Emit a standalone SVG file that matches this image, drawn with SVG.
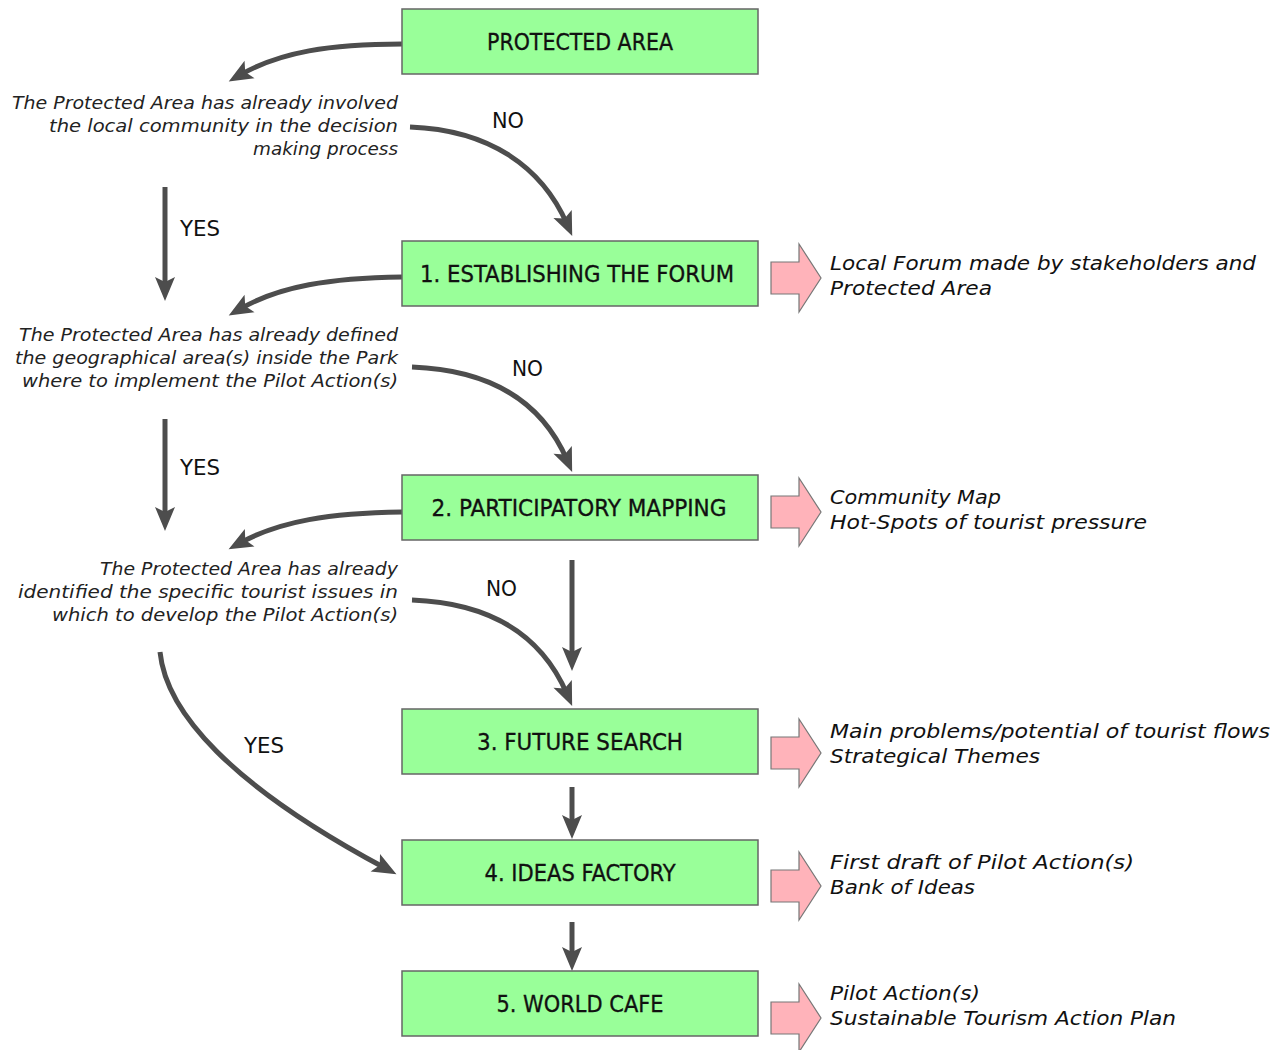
<svg xmlns="http://www.w3.org/2000/svg" xmlns:xlink="http://www.w3.org/1999/xlink" width="1274" height="1050" viewBox="0 0 1274 1050">
<style>
.box{fill:#99ff99;stroke:#666;stroke-width:1.5}
.bt{font-family:"DejaVu Sans Condensed","DejaVu Sans",sans-serif;font-size:23px;fill:#111;text-anchor:middle;stroke:#111;stroke-width:0.3}
.q{font-family:"DejaVu Sans Condensed","DejaVu Sans",sans-serif;font-style:italic;font-size:18px;fill:#222;text-anchor:end}
.out{font-family:"DejaVu Sans","Liberation Sans",sans-serif;font-style:italic;font-size:19px;fill:#111}
.lbl{font-family:"DejaVu Sans Condensed","DejaVu Sans",sans-serif;font-size:22px;fill:#111}
.con{fill:none;stroke:#4d4d4d;stroke-width:5}
.pink{fill:#ffb3ba;stroke:#777;stroke-width:1.2}
</style>
<defs>
<marker id="ah" markerUnits="userSpaceOnUse" viewBox="-12 -11 26 22" markerWidth="26" markerHeight="22" refX="0" refY="0" orient="auto">
<path d="M13,0 L-11,-10 L-6,0 L-11,10 Z" fill="#4d4d4d"/>
</marker>
<path id="parrow" d="M0,-16 H28 V-34 L50,0 L28,34 V16 H0 Z"/>
</defs>

<g id="connectors">
<path class="con" marker-end="url(#ah)" d="M402,44 C330,44 280,52 240,75"/>
<path class="con" marker-end="url(#ah)" d="M410,127 C490,130 542,167 567,224"/>
<path class="con" marker-end="url(#ah)" d="M165,187 V288"/>
<path class="con" marker-end="url(#ah)" d="M402,277 C330,278 280,286 240,309"/>
<path class="con" marker-end="url(#ah)" d="M412,367 C492,370 542,402 567,460"/>
<path class="con" marker-end="url(#ah)" d="M165,419 V518"/>
<path class="con" marker-end="url(#ah)" d="M402,512 C330,513 280,521 240,543"/>
<path class="con" marker-end="url(#ah)" d="M412,600 C492,603 542,636 567,694"/>
<path class="con" marker-end="url(#ah)" d="M572,560 V658"/>
<path class="con" marker-end="url(#ah)" d="M160,652 C166,712 230,785 385,868"/>
<path class="con" marker-end="url(#ah)" d="M572,787 V826"/>
<path class="con" marker-end="url(#ah)" d="M572,922 V958"/>
<text class="lbl" x="492" y="128" textLength="32" lengthAdjust="spacingAndGlyphs">NO</text>
<text class="lbl" x="512" y="376" textLength="31" lengthAdjust="spacingAndGlyphs">NO</text>
<text class="lbl" x="486" y="596" textLength="31" lengthAdjust="spacingAndGlyphs">NO</text>
<text class="lbl" x="180" y="236" textLength="40" lengthAdjust="spacingAndGlyphs">YES</text>
<text class="lbl" x="180" y="475" textLength="40" lengthAdjust="spacingAndGlyphs">YES</text>
<text class="lbl" x="244" y="753" textLength="40" lengthAdjust="spacingAndGlyphs">YES</text>
</g>

<g id="n0">
<rect class="box" x="402" y="9" width="356" height="65"/>
<text class="bt" x="580" y="50" textLength="186" lengthAdjust="spacingAndGlyphs">PROTECTED AREA</text>
</g>
<g id="q1">
<text class="q" x="398" y="109" textLength="386" lengthAdjust="spacingAndGlyphs">The Protected Area has already involved</text>
<text class="q" x="398" y="132" textLength="349" lengthAdjust="spacingAndGlyphs">the local community in the decision</text>
<text class="q" x="398" y="155" textLength="145" lengthAdjust="spacingAndGlyphs">making process</text>
</g>
<g id="n1">
<rect class="box" x="402" y="241" width="356" height="65"/>
<text class="bt" x="577" y="282" textLength="314" lengthAdjust="spacingAndGlyphs">1. ESTABLISHING THE FORUM</text>
</g>
<g id="o1">
<use xlink:href="#parrow" class="pink" x="771" y="278"/>
<text class="out" x="830" y="270" textLength="426" lengthAdjust="spacingAndGlyphs">Local Forum made by stakeholders and</text>
<text class="out" x="830" y="295" textLength="162" lengthAdjust="spacingAndGlyphs">Protected Area</text>
</g>
<g id="q2">
<text class="q" x="398" y="341" textLength="379" lengthAdjust="spacingAndGlyphs">The Protected Area has already defined</text>
<text class="q" x="398" y="364" textLength="383" lengthAdjust="spacingAndGlyphs">the geographical area(s) inside the Park</text>
<text class="q" x="398" y="387" textLength="376" lengthAdjust="spacingAndGlyphs">where to implement the Pilot Action(s)</text>
</g>
<g id="n2">
<rect class="box" x="402" y="475" width="356" height="65"/>
<text class="bt" x="579" y="516" textLength="295" lengthAdjust="spacingAndGlyphs">2. PARTICIPATORY MAPPING</text>
</g>
<g id="o2">
<use xlink:href="#parrow" class="pink" x="771" y="512"/>
<text class="out" x="830" y="504" textLength="171" lengthAdjust="spacingAndGlyphs">Community Map</text>
<text class="out" x="830" y="529" textLength="317" lengthAdjust="spacingAndGlyphs">Hot-Spots of tourist pressure</text>
</g>
<g id="q3">
<text class="q" x="398" y="575" textLength="298" lengthAdjust="spacingAndGlyphs">The Protected Area has already</text>
<text class="q" x="398" y="598" textLength="380" lengthAdjust="spacingAndGlyphs">identified the specific tourist issues in</text>
<text class="q" x="398" y="621" textLength="346" lengthAdjust="spacingAndGlyphs">which to develop the Pilot Action(s)</text>
</g>
<g id="n3">
<rect class="box" x="402" y="709" width="356" height="65"/>
<text class="bt" x="580" y="750" textLength="206" lengthAdjust="spacingAndGlyphs">3. FUTURE SEARCH</text>
</g>
<g id="o3">
<use xlink:href="#parrow" class="pink" x="771" y="753"/>
<text class="out" x="830" y="738" textLength="440" lengthAdjust="spacingAndGlyphs">Main problems/potential of tourist flows</text>
<text class="out" x="830" y="763" textLength="210" lengthAdjust="spacingAndGlyphs">Strategical Themes</text>
</g>
<g id="n4">
<rect class="box" x="402" y="840" width="356" height="65"/>
<text class="bt" x="580" y="881" textLength="191" lengthAdjust="spacingAndGlyphs">4. IDEAS FACTORY</text>
</g>
<g id="o4">
<use xlink:href="#parrow" class="pink" x="771" y="886"/>
<text class="out" x="830" y="869" textLength="304" lengthAdjust="spacingAndGlyphs">First draft of Pilot Action(s)</text>
<text class="out" x="830" y="894" textLength="145" lengthAdjust="spacingAndGlyphs">Bank of Ideas</text>
</g>
<g id="n5">
<rect class="box" x="402" y="971" width="356" height="65"/>
<text class="bt" x="580" y="1012" textLength="167" lengthAdjust="spacingAndGlyphs">5. WORLD CAFE</text>
</g>
<g id="o5">
<use xlink:href="#parrow" class="pink" x="771" y="1018"/>
<text class="out" x="830" y="1000" textLength="150" lengthAdjust="spacingAndGlyphs">Pilot Action(s)</text>
<text class="out" x="830" y="1025" textLength="346" lengthAdjust="spacingAndGlyphs">Sustainable Tourism Action Plan</text>
</g>
</svg>
